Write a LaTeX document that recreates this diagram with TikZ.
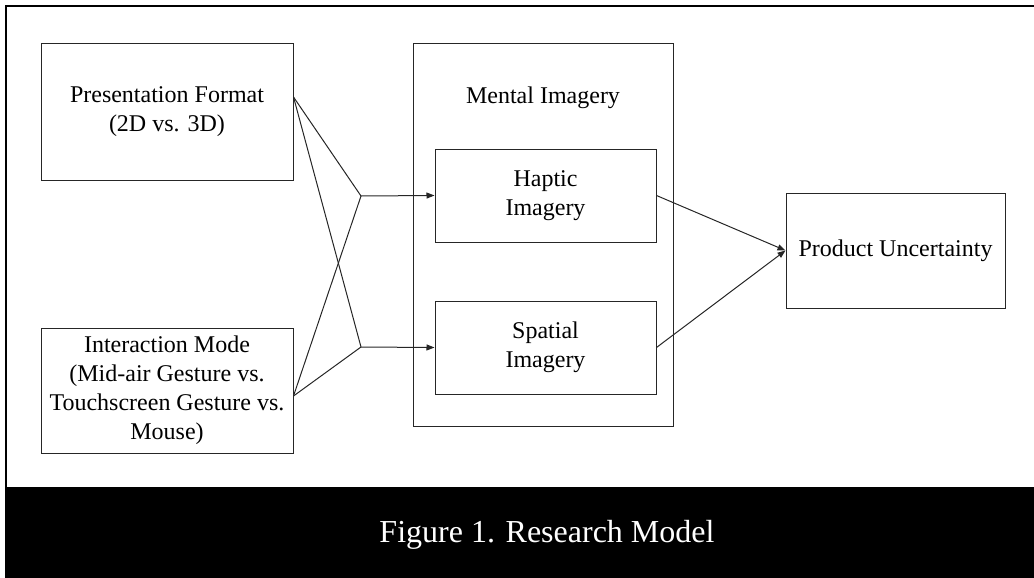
\documentclass[tikz,border=0pt]{standalone}
\usepackage{fontspec}
\setmainfont{Liberation Serif}
\usetikzlibrary{arrows.meta,positioning}

\begin{document}
\begin{tikzpicture}[x=0.5pt,y=-0.5pt]
\tikzstyle{every node}+=[inner sep=0pt]
\tikzset{box/.style={draw=black!85, line width=0.5pt, align=center, font=\fontsize{12}{14.5}\selectfont},
  link/.style={draw=black!85, line width=0.5pt},
  tip/.style={link, -{Triangle[length=4pt,width=3pt]}}}
\useasboundingbox (0,0) rectangle (1034,578);
% frame and caption bar
\fill [black] (5,487) rectangle (1034,578);
\draw [black, line width=1.3pt] (6,487) -- (6,6) -- (1034,6);
\node [text=white, font=\fontsize{16}{19}\selectfont] (cap) at (547,535) {Figure 1. Research Model};
% independent variables
\node [box, minimum width=126pt, minimum height=68.5pt] (pf) at (167,111.5) {Presentation Format\\(2D vs. 3D)};
\node [box, minimum width=126pt, minimum height=62.5pt] (im) at (167,390.5) {Interaction Mode\\(Mid-air Gesture vs.\\Touchscreen Gesture vs.\\Mouse)};
% mediators
\node [box, minimum width=130pt, minimum height=191.5pt] (mi) at (543,234.5) {};
\node [font=\fontsize{12}{14.5}\selectfont] (mitxt) at (543,98) {Mental Imagery};
\node [box, minimum width=110.5pt, minimum height=46.5pt] (hap) at (545.5,195.5) {Haptic\\Imagery};
\node [box, minimum width=110.5pt, minimum height=46.5pt] (sp) at (545.5,347.5) {Spatial\\Imagery};
% outcome
\node [box, minimum width=109.5pt, minimum height=57.5pt] (pu) at (895.5,250.5) {Product Uncertainty};
% connectors
\coordinate (j1) at (361,196);
\coordinate (j2) at (361,347);
\draw [link] ([yshift=7.25pt]pf.east) -- (j1);
\draw [link] ([yshift=7.25pt]pf.east) -- (j2);
\draw [link] ([yshift=-2.75pt]im.east) -- (j1);
\draw [link] ([yshift=-2.75pt]im.east) -- (j2);
\draw [tip] (j1) -- (hap.west);
\draw [tip] (j2) -- (sp.west);
\draw [tip] (hap.east) -- (pu.west);
\draw [tip] (sp.east) -- (pu.west);
\end{tikzpicture}
\end{document}
